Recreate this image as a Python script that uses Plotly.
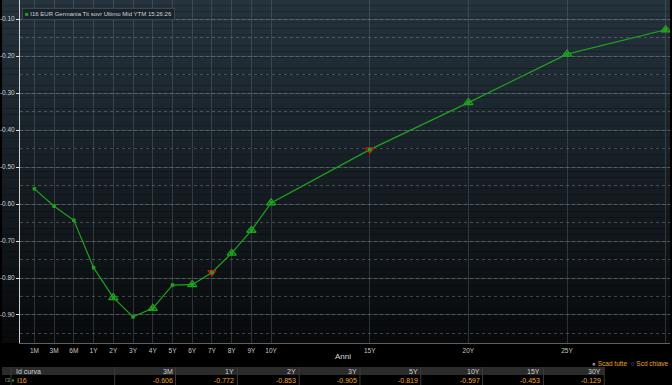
import plotly.graph_objects as go

# ---------------- data ----------------
tenors = ["1M", "3M", "6M", "1Y", "2Y", "3Y", "4Y", "5Y", "6Y", "7Y", "8Y", "9Y", "10Y",
          "15Y", "20Y", "25Y", "30Y"]
positions = [-2, -1, 0, 1, 2, 3, 4, 5, 6, 7, 8, 9, 10, 15, 20, 25, 30]
yields = [-0.559, -0.606, -0.644, -0.772, -0.853, -0.905, -0.882, -0.819, -0.818,
          -0.785, -0.733, -0.671, -0.597, -0.453, -0.326, -0.195, -0.129]
key_tenors = ["2Y", "4Y", "6Y", "8Y", "9Y", "10Y", "20Y", "25Y", "30Y"]
flag_tenors = ["7Y", "15Y"]
table_tenors = ["3M", "1Y", "2Y", "3Y", "5Y", "10Y", "15Y", "30Y"]
y_ticks = [-0.9, -0.8, -0.7, -0.6, -0.5, -0.4, -0.3, -0.2, -0.1]
series_name = "I16 EUR Germania Tit sovr Ultimo Mid YTM 15:26:26"
curve_id = "I16"
row_id = "I3"

# ---------------- layout geometry ----------------
W, H = 672, 385
L, R, T, B = 18, 2, 0, 42
PW, PH = W - L - R, H - T - B

def fx(px):
    return (px - L) / PW

def fy(py):
    return (H - B - py) / PH

FONT = "Liberation Sans Narrow, Liberation Sans, Arial, sans-serif"
GREEN = "#1fa31f"
ORANGE = "#f0a030"

pos_of = dict(zip(tenors, positions))
val_of = dict(zip(tenors, yields))

fig = go.Figure()

fig.add_trace(go.Scatter(
    x=positions, y=yields, mode="lines+markers",
    line=dict(color=GREEN, width=1.2),
    marker=dict(symbol="square", size=3.5, color=GREEN),
    hoverinfo="skip", showlegend=False))

fig.add_trace(go.Scatter(
    x=[pos_of[t] for t in key_tenors], y=[val_of[t] for t in key_tenors],
    mode="markers",
    marker=dict(symbol="triangle-up-open", size=8, color=GREEN, line=dict(width=1.3)),
    hoverinfo="skip", showlegend=False))

fig.add_trace(go.Scatter(
    x=[pos_of[t] for t in flag_tenors], y=[val_of[t] for t in flag_tenors],
    mode="markers",
    marker=dict(symbol="triangle-down-open", size=7, color="#c01818", line=dict(width=1.3)),
    hoverinfo="skip", showlegend=False))
fig.add_trace(go.Scatter(
    x=[pos_of[t] for t in flag_tenors], y=[val_of[t] for t in flag_tenors],
    mode="markers",
    marker=dict(symbol="square", size=3.5, color=GREEN),
    hoverinfo="skip", showlegend=False))

shapes = []
n = 60
top = (37, 51, 61)
bot = (8, 10, 12)
for i in range(n):
    f = i / (n - 1)
    c = tuple(round(top[k] + (bot[k] - top[k]) * f) for k in range(3))
    shapes.append(dict(type="rect", xref="paper", yref="paper",
                       x0=fx(0), x1=fx(W - R), y0=1 - (i + 1) / n, y1=1 - i / n,
                       fillcolor="rgb(%d,%d,%d)" % c, line=dict(width=0), layer="below"))

cols = [113, 174, 236, 298, 359, 420, 482, 543, 604]
shapes.append(dict(type="rect", xref="paper", yref="paper",
                   x0=fx(0), x1=fx(604), y0=fy(375), y1=fy(367),
                   fillcolor="#2b2b2b", line=dict(width=0)))
for cx in [9] + cols:
    shapes.append(dict(type="line", xref="paper", yref="paper",
                       x0=fx(cx), x1=fx(cx), y0=fy(385), y1=fy(367),
                       line=dict(color="#3c3c3c", width=1)))
shapes.append(dict(type="rect", xref="paper", yref="paper",
                   x0=fx(10), x1=fx(12), y0=fy(381.5), y1=fy(379.5),
                   fillcolor=GREEN, line=dict(width=0)))

annotations = []
def note(x, y, text, size=7, color="#d0d0d0", xanchor="left", **kw):
    annotations.append(dict(xref="paper", yref="paper", x=fx(x), y=fy(y),
                            xanchor=xanchor, yanchor="middle", text=text,
                            showarrow=False, font=dict(family=FONT, size=size, color=color),
                            **kw))

note(20, 14.5, "<span style='color:%s'>■</span> %s" % (GREEN, series_name), size=6,
     color="#d0d4d8", bgcolor="#19222a", bordercolor="#3a4650", borderwidth=1,
     borderpad=2, align="left")

note(342, 356, "Anni", size=8, color="#d8d8d8", xanchor="center")

note(12, 371, "Id curva")
note(1, 380.5, row_id, size=6, color="#9a9a9a")
note(13, 380.5, curve_id, color=ORANGE)
for t, cx in zip(table_tenors, cols[1:]):
    note(cx - 1, 371, t, xanchor="right")
    note(cx - 1, 380.5, "%.3f" % val_of[t], color=ORANGE, xanchor="right")

note(671, 363, "<span style='color:#8a8a8a'>●</span> Scad tutte  "
               "<span style='color:#3a9cff'>○</span> Scd chiave",
     size=6.5, color=ORANGE, xanchor="right")

fig.update_layout(
    width=W, height=H,
    margin=dict(l=L, r=R, t=T, b=B, pad=0),
    paper_bgcolor="#000000", plot_bgcolor="rgba(0,0,0,0)",
    shapes=shapes, annotations=annotations, showlegend=False,
    xaxis=dict(
        range=[-2.73, 30.22], tickmode="array", tickvals=positions, ticktext=tenors,
        showgrid=True, gridcolor="rgba(110,120,130,0.35)", gridwidth=1,
        zeroline=False, showline=True, linecolor="#606060", linewidth=1,
        ticks="", tickfont=dict(family=FONT, size=6.5, color="#c8c8c8"),
        ticklabelstandoff=1, fixedrange=True),
    yaxis=dict(
        range=[-0.9757, -0.0486], tickmode="array", tickvals=y_ticks,
        ticktext=["%.2f" % v for v in y_ticks],
        showgrid=True, gridcolor="rgba(110,120,130,0.38)", gridwidth=1,
        minor=dict(dtick=0.05, tick0=-0.05, showgrid=True, griddash="dot",
                   gridcolor="rgba(140,150,160,0.40)", gridwidth=1, ticks=""),
        zeroline=False, showline=True, linecolor="#d0d0d0", linewidth=1,
        ticks="outside", ticklen=3, tickcolor="#e0e0e0", tickwidth=1,
        tickfont=dict(family=FONT, size=6.5, color="#d0d0d0"), fixedrange=True),
)

fig.write_html("out.html")
